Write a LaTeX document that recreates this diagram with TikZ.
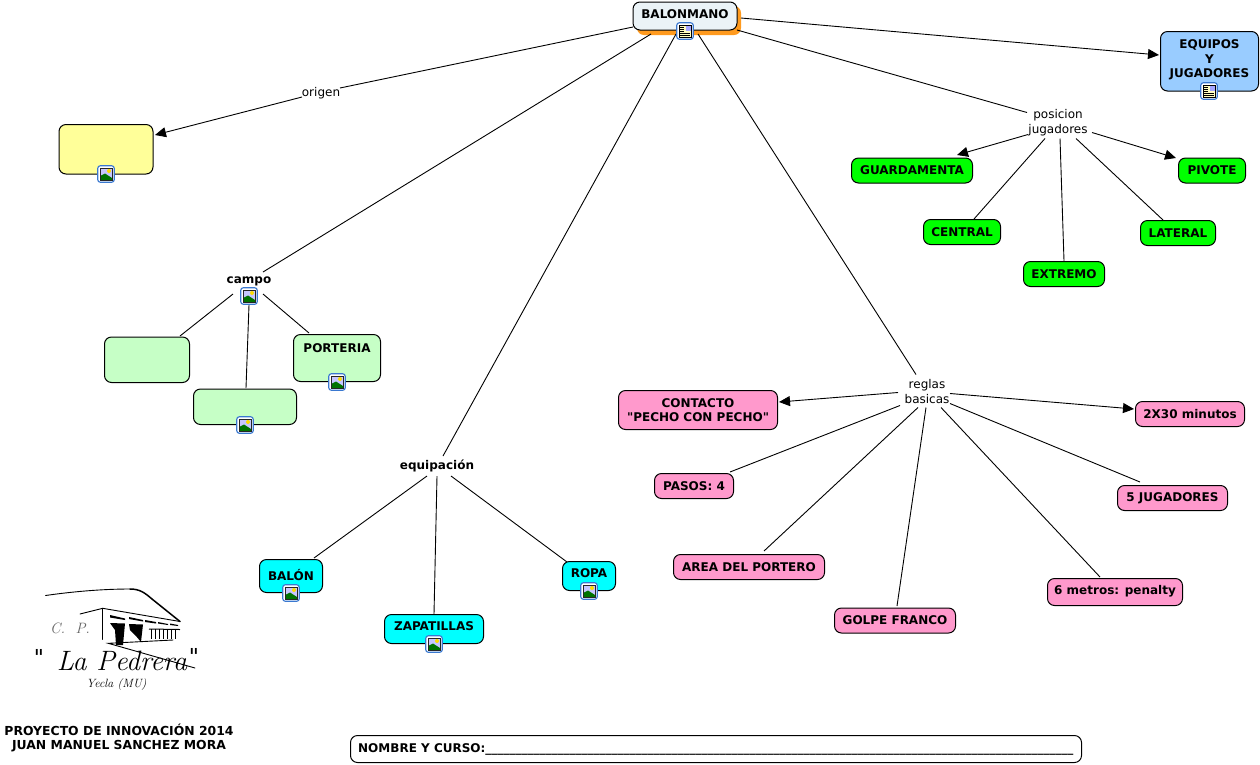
\documentclass[tikz,border=0pt]{standalone}
\usepackage{fontspec}
\setmainfont{DejaVu Sans}
\newfontfamily\plainf{DejaVu Sans}
\newfontfamily\lmit{Latin Modern Roman}
\usetikzlibrary{arrows.meta}
\definecolor{yellowfill}{HTML}{FFFF99}
\definecolor{lightgreen}{HTML}{C6FFC6}
\definecolor{brightgreen}{HTML}{00FF00}
\definecolor{cyanfill}{HTML}{00FFFF}
\definecolor{pinkfill}{HTML}{FF99CC}
\definecolor{bluefill}{HTML}{99CCFF}
\definecolor{rootfill}{HTML}{EBF3F7}
\definecolor{shadoworange}{HTML}{FF9A1E}
\definecolor{iconblue}{HTML}{3A78D0}
\tikzset{
  x=1pt,y=-1pt,
  concept/.style={draw=black,line width=1pt,rounded corners=7pt,inner sep=0pt,anchor=center},
  yellowbox/.style={concept,fill=yellowfill},
  greenbox/.style={concept,fill=lightgreen},
  brightbox/.style={concept,fill=brightgreen},
  cyanbox/.style={concept,fill=cyanfill},
  pinkbox/.style={concept,fill=pinkfill},
  bluebox/.style={concept,fill=bluefill},
  rootbox/.style={concept,fill=rootfill},
  boxtext/.style={align=center,inner sep=0pt,font=\fontsize{12}{14.3}\selectfont\bfseries},
  linker/.style={fill=white,align=center,inner sep=1pt,font=\fontsize{12}{15}\selectfont},
  boldlinker/.style={linker,font=\fontsize{12}{15}\selectfont\bfseries},
  link/.style={draw=black,line width=0.9pt},
  arrowlink/.style={link,-{Triangle[length=11pt,width=10pt]}},
  iconframe/.style={draw=iconblue,line width=1.1pt,fill=white,rounded corners=2.5pt,minimum size=16.5pt,inner sep=0pt},
  logoline/.style={draw=black,line width=0.9pt,line cap=round},
  logotext/.style={inner sep=0pt,font=\lmit\itshape}
}
\newcommand{\cbox}[8]{% name, style, x1,y1,x2,y2, text, text y
  \node[#2,minimum width=#5-#3,minimum height=#6-#4] (#1) at ({(#3+#5)/2},{(#4+#6)/2}) {};
  \node[boxtext] (#1-text) at ({(#3+#5)/2},#8) {#7};}
\newcommand{\ebox}[6]{%
  \node[#2,minimum width=#5-#3,minimum height=#6-#4] (#1) at ({(#3+#5)/2},{(#4+#6)/2}) {};}
\newcommand{\picicon}[3]{%
  \node[iconframe] (#1) at (#2,#3) {};
  \fill[blue!22!white] (#2-6,#3-6) rectangle (#2+6,#3+6);
  \fill[yellow!80!orange] (#2+3,#3-3) circle (2);
  \fill[green!45!black] (#2-6,#3+6) -- (#2-6,#3+2) -- (#2-1,#3-0.5) -- (#2+6,#3+4) -- (#2+6,#3+6) -- cycle;
  \draw[black!85,line width=0.8pt] (#2-6,#3-6) rectangle (#2+6,#3+6);}
\newcommand{\docicon}[3]{%
  \node[iconframe] (#1) at (#2,#3) {};
  \fill[yellow!25!white] (#2-6,#3-6) rectangle (#2+6,#3+6);
  \fill[blue!35!white] (#2+0.5,#3-5.5) rectangle (#2+5.5,#3-0.5);
  \draw[black,line width=0.8pt] (#2-6,#3-6) rectangle (#2+6,#3+6);
  \foreach \yy in {-3.5,-1.5,0.5}{\draw[black,line width=0.6pt] (#2-5,#3+\yy) -- (#2-0.8,#3+\yy);}
  \foreach \yy in {2.5,4.4}{\draw[black,line width=0.6pt] (#2-5,#3+\yy) -- (#2+5,#3+\yy);}}
\newcommand{\lk}[5]{\draw[#1] ([shift={(#3)}]#2.center) -- ([shift={(#5)}]#4.center);}
\begin{document}
\begin{tikzpicture}
\useasboundingbox (0,0) rectangle (1260,764);
\fill[white] (0,0) rectangle (1260,764);
% linking phrases
\node[linker] (origen) at (321,93.5) {origen};
\node[linker] (posicion) at (1058,122.5) {posicion\\jugadores};
\node[linker] (reglas) at (927,391.5) {reglas\\basicas};
\node[boldlinker] (campo) at (249,281.5) {campo};
\node[boldlinker] (equipacion) at (437,466) {equipación};
% concepts
\fill[shadoworange,rounded corners=7pt] (637,6) rectangle (741,35);
\cbox{root}{rootbox}{633}{2}{737}{30}{BALONMANO}{14}
\ebox{yel}{yellowbox}{59}{124.5}{153}{174}
\cbox{equipos}{bluebox}{1160.5}{31.5}{1258.5}{91}{EQUIPOS\\Y\\JUGADORES}{60}
\ebox{gA}{greenbox}{104.5}{337}{189.5}{382.5}
\ebox{gB}{greenbox}{193.5}{389}{296.5}{424.5}
\cbox{gC}{greenbox}{293.5}{334.5}{380.5}{381.5}{PORTERIA}{348}
\cbox{guard}{brightbox}{851.5}{158}{972.5}{183}{GUARDAMENTA}{170.5}
\cbox{central}{brightbox}{923.5}{219.5}{1000.5}{244.5}{CENTRAL}{232}
\cbox{extremo}{brightbox}{1023.5}{261.5}{1104.5}{286.5}{EXTREMO}{274}
\cbox{lateral}{brightbox}{1140.5}{220.5}{1215.5}{245.5}{LATERAL}{233.5}
\cbox{pivote}{brightbox}{1178.5}{158}{1245.5}{183}{PIVOTE}{170.5}
\cbox{contacto}{pinkbox}{618.5}{390.5}{777.5}{429.5}{CONTACTO\\{\plainf\bfseries "PECHO CON PECHO"}}{410}
\cbox{dosx}{pinkbox}{1135.5}{401.5}{1244.5}{426.5}{2X30 minutos}{414}
\cbox{pasos}{pinkbox}{654.5}{473.5}{733.5}{498.5}{PASOS: 4}{486.5}
\cbox{cinco}{pinkbox}{1117.5}{485.5}{1227.5}{510.5}{5 JUGADORES}{498}
\cbox{area}{pinkbox}{673.5}{554.5}{824.5}{579.5}{AREA DEL PORTERO}{567}
\cbox{seis}{pinkbox}{1047.5}{578.5}{1182.5}{605.5}{6 metros: penalty}{591.5}
\cbox{golpe}{pinkbox}{834.5}{608}{955.5}{633}{GOLPE FRANCO}{620.5}
\cbox{balon}{cyanbox}{259.5}{559.5}{322.5}{592.5}{BALÓN}{575.5}
\cbox{zapat}{cyanbox}{384.5}{614.5}{483.5}{643.5}{ZAPATILLAS}{626.5}
\cbox{ropa}{cyanbox}{562.5}{561.5}{615.5}{590.5}{ROPA}{573.5}
% connectors
\lk{link}{root}{-52,11}{origen}{19,-5.5}
\lk{arrowlink}{origen}{-19,3.5}{yel}{49,-14.25}
\lk{link}{root}{-34,18}{campo}{14,-9.5}
\lk{link}{root}{-9,18}{equipacion}{6,-10}
\lk{link}{root}{13,18}{reglas}{-11,-17}
\lk{link}{root}{52,14}{posicion}{-31,-10}
\lk{arrowlink}{root}{56,2}{equipos}{-50.5,-6.25}
\lk{arrowlink}{posicion}{-30,12}{guard}{45,-15.5}
\lk{link}{posicion}{-13,16}{central}{12,-13}
\lk{link}{posicion}{2,16}{extremo}{0,-13}
\lk{link}{posicion}{18,16}{lateral}{-15,-13}
\lk{arrowlink}{posicion}{34,10}{pivote}{-36,-12.5}
\lk{arrowlink}{reglas}{-29,1}{contacto}{81,-8}
\lk{link}{reglas}{-27,14}{pasos}{36,-14}
\lk{link}{reglas}{-9,16}{area}{15,-16}
\lk{link}{reglas}{-1,16}{golpe}{2,-14.5}
\lk{link}{reglas}{14,16}{seis}{-15,-15}
\lk{link}{reglas}{23,12}{cinco}{-32.5,-16}
\lk{arrowlink}{reglas}{23,2}{dosx}{-56,-5}
\lk{link}{campo}{-16,12.5}{gA}{33,-23.75}
\lk{link}{campo}{0,23.5}{gB}{1,-18.75}
\lk{link}{campo}{14,12.5}{gC}{-28,-25}
\lk{link}{equipacion}{-10,10}{balon}{23,-18}
\lk{link}{equipacion}{0,10}{zapat}{0,-15}
\lk{link}{equipacion}{14,10}{ropa}{-22,-14}
% icons
\docicon{rooticon}{685}{31}
\docicon{equiposicon}{1209}{91}
\picicon{yelicon}{106}{174}
\picicon{campoicon}{249}{296}
\picicon{gBicon}{245}{425}
\picicon{gCicon}{337}{382}
\picicon{balonicon}{291}{593}
\picicon{zapaticon}{434}{644}
\picicon{ropaicon}{589}{591}
% logo
\draw[logoline] (45.5,595.5) .. controls (70,592) and (100,589) .. (130,589);
\draw[logoline,line width=1.5pt] (130,589) .. controls (140,589) and (145,593) .. (152,599) -- (180,621.5);
\draw[logoline] (80,614) -- (102.7,608.3) -- (180,621.5);
\draw[logoline] (102.7,608.3) -- (102.7,639.3);
\draw[logoline] (173,640) -- (108.3,643.3) -- (195,668);
\fill[black] (110,615) -- (125,618.5) -- (125,620) -- (110,617.5) -- cycle;
\fill[black] (129,617) -- (143,620) -- (143,621.5) -- (129,619) -- cycle;
\fill[black] (145,620) -- (156,622) -- (156,623.5) -- (145,622) -- cycle;
\fill[black] (158,622) -- (168,624) -- (168,625) -- (158,623.5) -- cycle;
\fill[black] (170,623.5) -- (178,625) -- (178,626) -- (170,625) -- cycle;
\fill[black] (110,623) -- (125,623.5) -- (123,645) -- (116,645) -- (115,630) -- cycle;
\fill[black] (129,624) -- (143,624.5) -- (141,642) -- (136,636) -- (130,630) -- cycle;
\draw[black,line width=1pt] (149,629) -- (180,629.5);
\foreach \xx in {151,155,159,163,167,171,175}{\draw[black,line width=0.9pt] (\xx,629) -- (\xx,638.5);}
\node[logotext,text=black!60,font=\fontsize{15}{17}\lmit\itshape] (cp) at (70,628) {C.\ \ P.};
\node[logotext,font=\fontsize{28}{30}\lmit\itshape] (pedrera) at (122,661) {La Pedrera};
\node[logotext,font=\fontsize{22}{24}\lmit] (q1) at (39,657) {\plainf "};
\node[logotext,font=\fontsize{22}{24}\lmit] (q2) at (194,656) {\plainf "};
\node[logotext,font=\fontsize{12}{14}\lmit\itshape] (yecla) at (116.5,684) {Yecla (MU)};
% footer
\node[boxtext,align=center,font=\fontsize{12.4}{14.3}\selectfont\bfseries] (proyecto) at (119,738) {PROYECTO DE INNOVACIÓN 2014\\JUAN MANUEL SANCHEZ MORA};
\ebox{nombre}{concept}{350.5}{735.5}{1081.5}{762.5}
\node[boxtext,anchor=west] (nombretext) at (358,749.5) {NOMBRE Y CURSO:\foreach \i in {1,...,98}{\_}};
\end{tikzpicture}
\end{document}
